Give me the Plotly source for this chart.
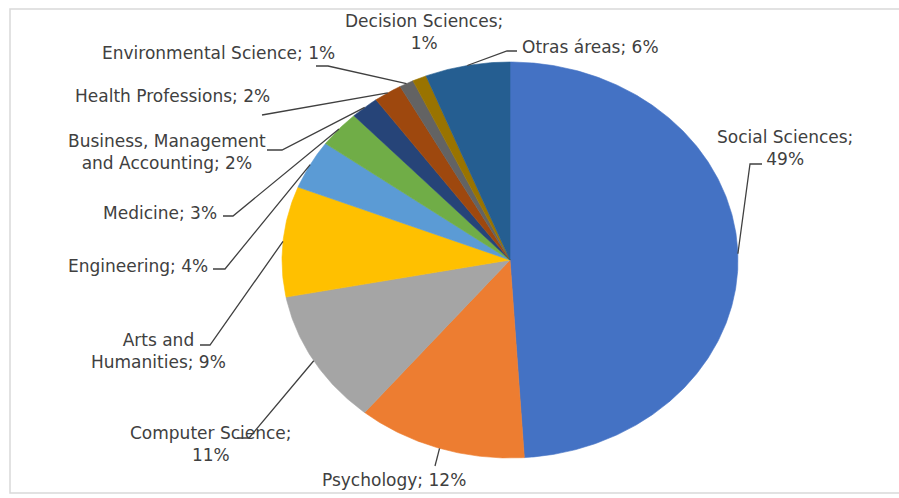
import numpy as np
import plotly.graph_objects as go

# Share of publications by subject area (percent)
areas = [
    "Social Sciences", "Psychology", "Computer Science", "Arts and Humanities",
    "Engineering", "Medicine", "Business, Management and Accounting",
    "Health Professions", "Environmental Science", "Decision Sciences",
    "Otras áreas",
]
shares = [49, 12, 11, 9, 4, 3, 2, 2, 1, 1, 6]
colors = [
    "#4472C4", "#ED7D31", "#A5A5A5", "#FFC000", "#5B9BD5", "#70AD47",
    "#264478", "#9E480E", "#636363", "#997300", "#255E91",
]
label_texts = [
    "Social Sciences;<br>49%", "Psychology; 12%", "Computer Science;<br>11%",
    "Arts and<br>Humanities; 9%", "Engineering; 4%", "Medicine; 3%",
    "Business, Management<br>and Accounting; 2%", "Health Professions; 2%",
    "Environmental Science; 1%", "Decision Sciences;<br>1%", "Otras áreas; 6%",
]

# Layout of the pie (pixel space): centre and the two radii of the ellipse
CX, CY, RX, RY = 510, 260, 228, 198
W, H = 899, 498

# Label centres and the label-side points of each leader line
label_pos = [
    (785, 148), (394, 480), (211, 444), (158, 351), (138, 266), (160, 213),
    (167, 152), (172, 96), (218, 53), (424, 32), (590, 47),
]
leader_start = [
    [(762, 164), (750, 164)], [(435, 466)], [(237, 438), (249, 438)],
    [(200, 345), (210, 345)], [(213, 269), (225, 269)], [(223, 216), (233, 216)],
    [(267, 150), (282, 150)], [(262, 115)], [(316, 66), (328, 66)],
    None, [(517, 51), (507, 51)],
]


def ellipse_point(frac):
    theta = 2 * np.pi * frac  # clockwise from 12 o'clock
    return CX + RX * np.sin(theta), CY - RY * np.cos(theta)


fig = go.Figure()
total = float(sum(shares))
cum = 0.0
for name, val, col in zip(areas, shares, colors):
    f0 = cum / total
    f1 = (cum + val) / total
    cum += val
    t = np.linspace(f0, f1, max(8, int(val * 6)))
    xs, ys = ellipse_point(t)
    fig.add_trace(go.Scatter(
        x=np.concatenate([[CX], xs, [CX]]),
        y=np.concatenate([[CY], ys, [CY]]),
        fill="toself", fillcolor=col, mode="lines",
        line=dict(width=0.6, color=col), name=name, hoverinfo="name",
        showlegend=False,
    ))

# Leader lines from the labels to the middle of each slice's rim
cum = 0.0
for val, pts in zip(shares, leader_start):
    mid = (cum + val / 2) / total
    cum += val
    if pts is None:
        continue
    ex, ey = ellipse_point(mid)
    xs = [p[0] for p in pts] + [ex]
    ys = [p[1] for p in pts] + [ey]
    fig.add_trace(go.Scatter(
        x=xs, y=ys, mode="lines", line=dict(color="#404040", width=1.3),
        hoverinfo="skip", showlegend=False,
    ))

for txt, (lx, ly) in zip(label_texts, label_pos):
    fig.add_annotation(
        x=lx, y=ly, text=txt, showarrow=False, xanchor="center", yanchor="middle",
        font=dict(family="DejaVu Sans", size=17, color="#404040"),
    )

# Chart area frame
fig.add_shape(type="rect", x0=10, y0=9, x1=W + 5, y1=493,
              line=dict(color="#D9D9D9", width=1.5), layer="below")

fig.update_layout(
    width=W, height=H, margin=dict(l=0, r=0, t=0, b=0),
    paper_bgcolor="white", plot_bgcolor="white",
    xaxis=dict(range=[0, W], visible=False, fixedrange=True),
    yaxis=dict(range=[H, 0], visible=False, fixedrange=True),
)

fig.write_html("out.html")
